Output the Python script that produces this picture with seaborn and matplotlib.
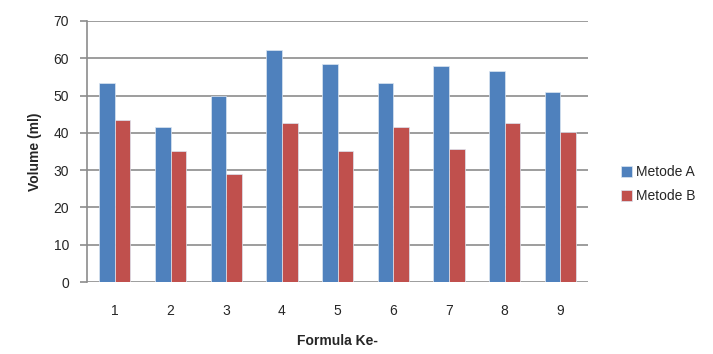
import numpy as np
import pandas as pd
import seaborn as sns
import matplotlib
matplotlib.use('agg')
import matplotlib.pyplot as plt

formula = ['1', '2', '3', '4', '5', '6', '7', '8', '9']
metode_a = [53.4, 41.5, 49.9, 62.2, 58.4, 53.4, 57.8, 56.6, 50.9]
metode_b = [43.4, 35.2, 29.0, 42.7, 35.2, 41.5, 35.8, 42.7, 40.1]
series = ['Metode A', 'Metode B']
colors = ['#4F81BD', '#C0504D']

if __name__ == '__main__':
    sns.set_style('white')
    plt.rcParams['font.family'] = ['Liberation Sans', 'DejaVu Sans']

    data = pd.DataFrame({
        'formula': formula * 2,
        'volume': metode_a + metode_b,
        'metode': [series[0]] * len(formula) + [series[1]] * len(formula),
    })

    fig = plt.figure(figsize=(7.13, 3.54), dpi=100)
    ax = fig.add_axes([0.122, 0.203, 0.703, 0.738])
    sns.barplot(data=data, x='formula', y='volume', hue='metode',
                palette=colors, width=0.56, saturation=1, ax=ax,
                edgecolor='#dce6f2', linewidth=0.5)

    ax.set_ylim(0, 70)
    ax.set_yticks(range(0, 71, 10))
    ax.yaxis.grid(True, color='#8c8c8c', linewidth=1.2)
    ax.set_axisbelow(True)
    for side in ['top', 'right', 'bottom']:
        ax.spines[side].set_visible(False)
    ax.spines['left'].set_color('#8c8c8c')
    ax.spines['left'].set_linewidth(1.2)
    ax.tick_params(axis='y', left=True, length=5, width=1.2, color='#8c8c8c',
                   pad=8, labelsize=10)
    ax.tick_params(axis='x', bottom=False, pad=12, labelsize=10)

    ax.set_xlabel('Formula Ke-', fontsize=10, fontweight='bold', labelpad=12)
    ax.set_ylabel('Volume (ml)', fontsize=10, fontweight='bold', labelpad=8)

    ax.legend(loc='center left', bbox_to_anchor=(1.04, 0.375), frameon=False,
              fontsize=10, handlelength=0.8, handleheight=0.8,
              handletextpad=0.3, labelspacing=0.7)

    plt.savefig('out.png', dpi=100)
    plt.close('all')
